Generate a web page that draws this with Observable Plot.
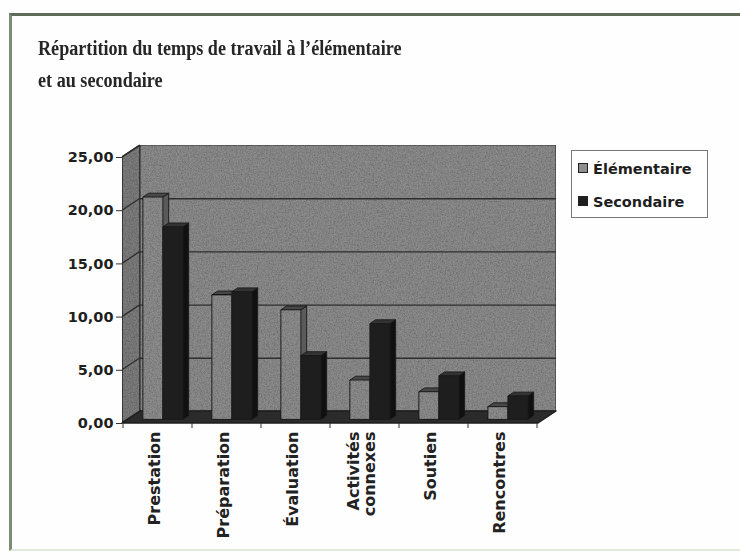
<!DOCTYPE html>
<html lang="fr">
<head>
<meta charset="utf-8">
<script src="https://cdn.jsdelivr.net/npm/d3@7"></script>
<script src="https://cdn.jsdelivr.net/npm/@observablehq/plot@0.6"></script>
<style>
  body { margin: 0; background: #ffffff; }
  #wrap { position: relative; width: 740px; height: 559px; overflow: hidden; background: #fefefe; }
  #frame { position: absolute; left: 9px; top: 13px; width: 780px; height: 533px;
           border-top: 3px solid #5f6a58; border-left: 3px solid #7e8b75; border-bottom: 2px solid #e2eadb; }
  #title { position: absolute; left: 38px; top: 32px; font-family: "Liberation Serif", serif; font-weight: bold;
           font-size: 20.5px; line-height: 32px; color: #262626; transform: scaleX(0.885); transform-origin: 0 0;
           white-space: nowrap; }
  #chart { position: absolute; left: 0; top: 0; }
  #legend { position: absolute; left: 571px; top: 150px; width: 135px; height: 66px; border: 1px solid #777;
            background: #fff; font-family: "DejaVu Sans", sans-serif; font-weight: bold; font-size: 14.5px; color: #1e1e1e; }
  .item { position: absolute; left: 6px; height: 18px; line-height: 18px; white-space: nowrap; }
  .sw { display: inline-block; width: 8px; height: 8px; border: 1px solid #222; margin-right: 5px; vertical-align: 1px; }
</style>
</head>
<body>
<div id="wrap">
  <div id="frame"></div>
  <div id="title">Répartition du temps de travail à l’élémentaire<br>et au secondaire</div>
  <div id="chart"></div>
  <div id="legend"></div>
</div>
<script>
// ---- data ----
const categories = ["Prestation", "Préparation", "Évaluation", "Activités\nconnexes", "Soutien", "Rencontres"];
const series = ["Élémentaire", "Secondaire"];
const elementaire = [20.9, 11.7, 10.3, 3.7, 2.6, 1.2];
const secondaire = [18.1, 12.0, 6.0, 9.0, 4.1, 2.2];
const yTicks = [0, 5, 10, 15, 20, 25];

const rows = categories.flatMap((c, i) => [
  {cat: c, serie: series[0], value: elementaire[i]},
  {cat: c, serie: series[1], value: secondaire[i]}
]);

// ---- style ----
const DX = 18, DY = -12;             // depth of the 3D box
const FD = 0.3, BD = 0.62;           // bar depth fractions (front, back)
const colors = {
  "Élémentaire": {front: "#8e8e8e", top: "#474747", side: "#5a5a5a"},
  "Secondaire": {front: "#1e1e1e", top: "#333333", side: "#101010"}
};
const fmt = d => d3.format(".2f")(d).replace(".", ",");

function pts(a) { return a.map(p => p.join(",")).join(" "); }

const walls = Plot.frame({
  render(index, scales, values, dims) {
    const {x, y} = scales;
    const x0 = dims.marginLeft, x1 = dims.width - dims.marginRight;
    const y0 = y(0), yt = y(yTicks[yTicks.length - 1]);
    const g = d3.create("svg:g");
    // grain filter (scanned look)
    const f = g.append("defs").append("filter").attr("id", "grain")
      .attr("x", 0).attr("y", 0).attr("width", "100%").attr("height", "100%");
    f.append("feTurbulence").attr("type", "fractalNoise").attr("baseFrequency", 0.75)
      .attr("numOctaves", 2).attr("seed", 4).attr("result", "n");
    f.append("feColorMatrix").attr("in", "n").attr("type", "matrix")
      .attr("values", "0 0 0 0 0  0 0 0 0 0  0 0 0 0 0  0.9 0 0 0 -0.3").attr("result", "na");
    f.append("feComposite").attr("in", "na").attr("in2", "SourceGraphic").attr("operator", "in").attr("result", "nb");
    const m = f.append("feMerge");
    m.append("feMergeNode").attr("in", "SourceGraphic");
    m.append("feMergeNode").attr("in", "nb");

    const poly = (p, fill, stroke, sw, grain) => {
      const e = g.append("polygon").attr("points", pts(p))
        .attr("fill", fill).attr("stroke", stroke).attr("stroke-width", sw || 1).attr("stroke-linejoin", "round");
      if (grain) e.attr("filter", "url(#grain)");
      return e;
    };
    // back wall
    poly([[x0 + DX, yt + DY], [x1 + DX, yt + DY], [x1 + DX, y0 + DY], [x0 + DX, y0 + DY]], "#8d8d8d", "#3a3a3a", 1.2, true);
    // side wall
    poly([[x0, y0], [x0, yt], [x0 + DX, yt + DY], [x0 + DX, y0 + DY]], "#7e7e7e", "#2a2a2a", 1.5, true);
    // side-wall grid diagonals
    for (const v of yTicks.slice(1)) {
      g.append("line").attr("x1", x0).attr("y1", y(v)).attr("x2", x0 + DX).attr("y2", y(v) + DY)
        .attr("stroke", "#2e2e2e").attr("stroke-width", 1.3);
    }
    // floor
    poly([[x0, y0], [x1, y0], [x1 + DX, y0 + DY], [x0 + DX, y0 + DY]], "#2b2b2b", "#1e1e1e", 1.5);
    // category boundary ticks under the floor
    const bounds = categories.map(c => x(c)).concat([x(categories[categories.length - 1]) + x.bandwidth()]);
    for (const bx of bounds) {
      g.append("line").attr("x1", bx).attr("y1", y0).attr("x2", bx).attr("y2", y0 + 5)
        .attr("stroke", "#333").attr("stroke-width", 1);
    }
    return g.node();
  }
});

const bars = Plot.barY(rows, {
  x: "cat", y: "value",
  render(index, scales, values, dims) {
    const {x, y} = scales;
    const bw = x.bandwidth();
    const inset = 0.21 * bw;
    const w = (bw - 2 * inset) / 2;
    const fdx = FD * DX, fdy = FD * DY, bdx = BD * DX, bdy = BD * DY;
    const g = d3.create("svg:g");
    for (const i of index) {
      const d = rows[i];
      const s = series.indexOf(d.serie);
      const xa = x(d.cat) + inset + s * w, xb = xa + w;
      const yb = y(0), ytop = y(d.value);
      const c = colors[d.serie];
      const poly = (p, fill) => g.append("polygon").attr("points", pts(p)).attr("fill", fill)
        .attr("stroke", "#1a1a1a").attr("stroke-width", 0.9).attr("stroke-linejoin", "round");
      poly([[xb + fdx, ytop + fdy], [xb + bdx, ytop + bdy], [xb + bdx, yb + bdy], [xb + fdx, yb + fdy]], c.side);
      poly([[xa + fdx, ytop + fdy], [xb + fdx, ytop + fdy], [xb + bdx, ytop + bdy], [xa + bdx, ytop + bdy]], c.top);
      const fr = poly([[xa + fdx, ytop + fdy], [xb + fdx, ytop + fdy], [xb + fdx, yb + fdy], [xa + fdx, yb + fdy]], c.front);
      if (s === 0) fr.attr("filter", "url(#grain)");
    }
    return g.node();
  }
});

const plot = Plot.plot({
  width: 740,
  height: 559,
  marginLeft: 122,
  marginRight: 202,
  marginTop: 157,
  marginBottom: 136,
  style: {background: "transparent", overflow: "visible"},
  x: {domain: categories, padding: 0, label: null},
  y: {domain: [0, 25], label: null},
  marks: [
    walls,
    Plot.ruleY(yTicks.slice(1, -1), {dx: DX, dy: DY, stroke: "#2e2e2e", strokeWidth: 1.4}),
    bars,
    Plot.axisY({ticks: yTicks, tickFormat: fmt, tickSize: 6, tickPadding: 3, label: null,
      fontFamily: "DejaVu Sans, sans-serif", fontWeight: "bold", fontSize: 14.5, fill: "#1e1e1e", stroke: "#333"}),
    Plot.axisX({tickSize: 0, tickRotate: -90, tickPadding: 8, label: null, lineAnchor: "middle", dx: -3,
      fontFamily: "DejaVu Sans, sans-serif", fontWeight: "bold", fontSize: 16, fill: "#222"})
  ]
});
document.getElementById("chart").appendChild(plot);

// legend
const legend = d3.select("#legend");
series.forEach((s, i) => {
  const it = legend.append("div").attr("class", "item").style("top", (9 + i * 33) + "px");
  it.append("span").attr("class", "sw").style("background", colors[s].front);
  it.append("span").text(s);
});
</script>
</body>
</html>
